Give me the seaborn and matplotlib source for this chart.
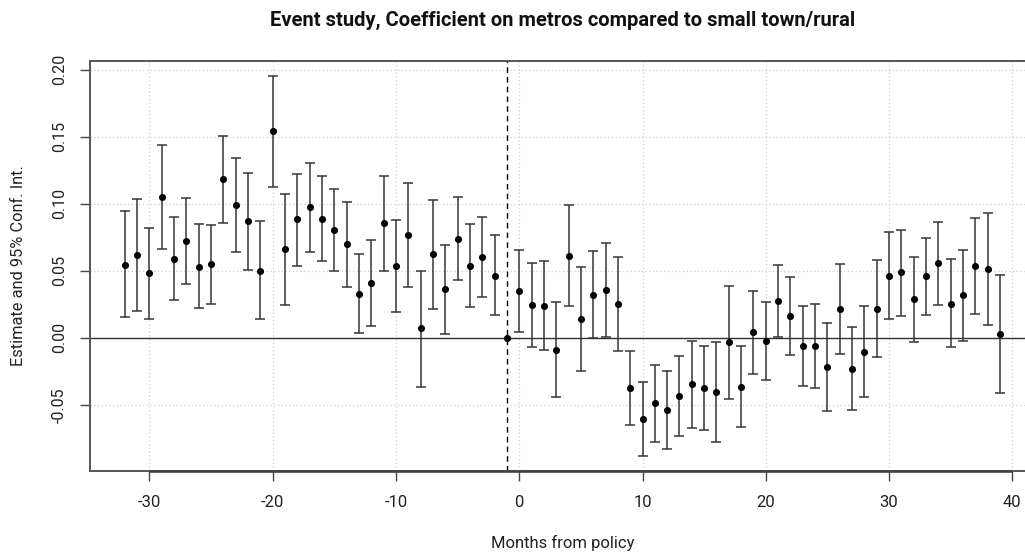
import numpy as np
import pandas as pd
import matplotlib
matplotlib.use("Agg")
import matplotlib.pyplot as plt
import seaborn as sns

months = list(range(-32, 40))
estimate = [0.0547, 0.0617, 0.0483, 0.1052, 0.0590, 0.0721, 0.0532, 0.0550,
            0.1182, 0.0993, 0.0868, 0.0502, 0.1540, 0.0659, 0.0883, 0.0973,
            0.0890, 0.0806, 0.0697, 0.0328, 0.0408, 0.0856, 0.0537, 0.0764,
            0.0070, 0.0622, 0.0361, 0.0736, 0.0535, 0.0602, 0.0465, 0.0,
            0.0353, 0.0244, 0.0241, -0.0090, 0.0614, 0.0137, 0.0321, 0.0358,
            0.0251, -0.0376, -0.0604, -0.0490, -0.0540, -0.0433, -0.0348, -0.0376,
            -0.0405, -0.0032, -0.0368, 0.0040, -0.0025, 0.0274, 0.0164, -0.0062,
            -0.0060, -0.0219, 0.0214, -0.0229, -0.0104, 0.0216, 0.0463, 0.0488,
            0.0289, 0.0458, 0.0555, 0.0256, 0.0316, 0.0535, 0.0512, 0.0030]
upper = [0.0943, 0.1035, 0.0823, 0.1440, 0.0905, 0.1042, 0.0846, 0.0843,
         0.1505, 0.1343, 0.1231, 0.0868, 0.1955, 0.1075, 0.1226, 0.1308,
         0.1206, 0.1114, 0.1015, 0.0624, 0.0729, 0.1206, 0.0881, 0.1152,
         0.0500, 0.1025, 0.0694, 0.1047, 0.0846, 0.0905, 0.0764, 0.0,
         0.0657, 0.0560, 0.0575, 0.0264, 0.0993, 0.0525, 0.0647, 0.0709,
         0.0600, -0.0097, -0.0331, -0.0204, -0.0249, -0.0132, -0.0027, -0.0060,
         -0.0032, 0.0390, -0.0062, 0.0353, 0.0269, 0.0545, 0.0455, 0.0236,
         0.0249, 0.0109, 0.0552, 0.0080, 0.0234, 0.0580, 0.0786, 0.0808,
         0.0604, 0.0746, 0.0863, 0.0587, 0.0654, 0.0896, 0.0928, 0.0470]
lower = [0.0154, 0.0197, 0.0142, 0.0659, 0.0279, 0.0405, 0.0221, 0.0256,
         0.0858, 0.0639, 0.0507, 0.0137, 0.1127, 0.0244, 0.0537, 0.0639,
         0.0575, 0.0500, 0.0376, 0.0035, 0.0085, 0.0500, 0.0192, 0.0376,
         -0.0366, 0.0216, 0.0027, 0.0428, 0.0229, 0.0303, 0.0169, 0.0,
         0.0047, -0.0067, -0.0092, -0.0443, 0.0234, -0.0251, -0.0005, 0.0007,
         -0.0095, -0.0654, -0.0878, -0.0776, -0.0833, -0.0734, -0.0672, -0.0687,
         -0.0776, -0.0453, -0.0669, -0.0271, -0.0318, 0.0005, -0.0129, -0.0363,
         -0.0371, -0.0547, -0.0119, -0.0537, -0.0443, -0.0144, 0.0137, 0.0164,
         -0.0030, 0.0167, 0.0246, -0.0070, -0.0020, 0.0177, 0.0097, -0.0413]
x_ticks = [-30, -20, -10, 0, 10, 20, 30, 40]
y_ticks = [-0.05, 0.00, 0.05, 0.10, 0.15, 0.20]
y_tick_labels = ["-0.05", "0.00", "0.05", "0.10", "0.15", "0.20"]
title = "Event study, Coefficient on metros compared to small town/rural"
x_label = "Months from policy"
y_label = "Estimate and 95% Conf. Int."

df = pd.DataFrame({"month": months, "estimate": estimate, "upper": upper, "lower": lower})

sns.set_theme(style="white")
plt.rcParams["font.family"] = ["Roboto", "DejaVu Sans"]
plt.rcParams["axes.unicode_minus"] = False

fig = plt.figure(figsize=(10.25, 5.52), dpi=100)
ax = fig.add_axes([0.0875, 0.1473, 0.9223, 0.7429])

# grid
for t in x_ticks:
    ax.axvline(t, color="#cfcfcf", lw=0.9, ls=(0, (1, 2)), zorder=0)
for t in y_ticks:
    ax.axhline(t, color="#cfcfcf", lw=0.9, ls=(0, (1, 2)), zorder=0)

ax.axhline(0, color="#333333", lw=1.0, zorder=1)
ax.axvline(-1, color="black", lw=1.0, ls=(0, (4, 3)), zorder=1)

ci = df[df["upper"] != df["lower"]]
ax.errorbar(ci["month"], ci["estimate"],
            yerr=[ci["estimate"] - ci["lower"], ci["upper"] - ci["estimate"]],
            fmt="none", ecolor="#363636", elinewidth=1.1, capsize=3.6, capthick=1.1, zorder=2)
sns.scatterplot(data=df, x="month", y="estimate", ax=ax, color="black", s=26,
                edgecolor="black", linewidth=0, zorder=3, legend=False)

rng_x = max(months) - min(months)
ax.set_xlim(min(months) - 0.04 * rng_x, max(months) + 0.04 * rng_x)
ymin, ymax = min(lower), max(upper)
rng_y = ymax - ymin
ax.set_ylim(ymin - 0.04 * rng_y, ymax + 0.04 * rng_y)

# R-style axis line along bottom from first to last tick
ax.hlines(ax.get_ylim()[0], x_ticks[0], x_ticks[-1], color="#444444", lw=1.9,
          clip_on=False, zorder=4)

ax.set_xticks(x_ticks)
ax.set_yticks(y_ticks)
ax.set_yticklabels(y_tick_labels, rotation=90, va="center")
ax.tick_params(axis="both", direction="out", length=7.5, width=1.0, color="#444444",
               labelcolor="#222222", bottom=True, left=True)
ax.tick_params(axis="x", labelsize=12, pad=10)
ax.tick_params(axis="y", labelsize=11.5, pad=9)

for s in ax.spines.values():
    s.set_color("#555555")
    s.set_linewidth(1.4)

ax.set_xlabel(x_label, fontsize=12, color="#222222", va="center")
ax.xaxis.set_label_coords(0.5, -0.176)
ax.set_ylabel(y_label, fontsize=11.8, color="#222222", va="center")
ax.yaxis.set_label_coords(-0.0758, 0.5)
ax.set_title(title, fontsize=14.5, fontweight="bold", pad=25, color="#111111")

fig.savefig("out.png", dpi=100)
